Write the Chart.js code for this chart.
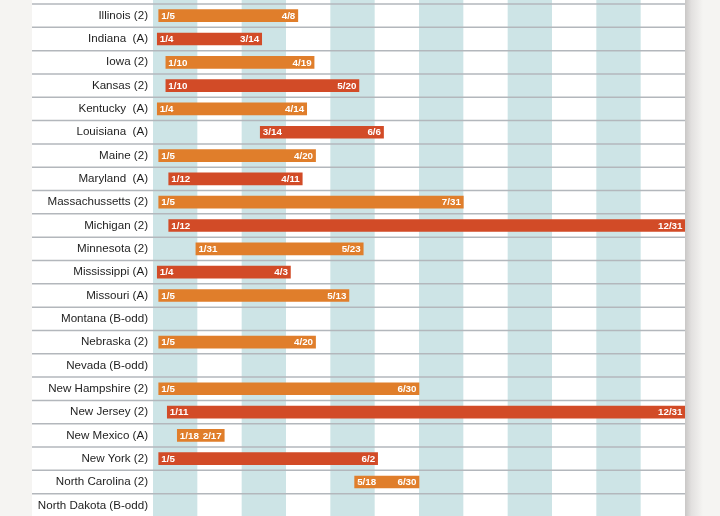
<!DOCTYPE html>
<html>
<head>
<meta charset="utf-8">
<script src="https://cdn.jsdelivr.net/npm/chart.js@4/dist/chart.umd.min.js"></script>
<style>
  html, body { margin: 0; padding: 0; background: #f5f4f2; overflow: hidden; width: 720px; height: 516px; }
  #wrap { position: absolute; left: 0; top: 0; width: 720px; height: 518px; }
</style>
</head>
<body>
<div id="wrap"><canvas id="c" width="720" height="518"></canvas></div>
<script>
// ---- data ----
const states = [
  "Illinois (2)", "Indiana  (A)", "Iowa (2)", "Kansas (2)", "Kentucky  (A)",
  "Louisiana  (A)", "Maine (2)", "Maryland  (A)", "Massachussetts (2)", "Michigan (2)",
  "Minnesota (2)", "Mississippi (A)", "Missouri (A)", "Montana (B-odd)", "Nebraska (2)",
  "Nevada (B-odd)", "New Hampshire (2)", "New Jersey (2)", "New Mexico (A)", "New York (2)",
  "North Carolina (2)", "North Dakota (B-odd)"
];
const startDates = [
  "1/5", "1/4", "1/10", "1/10", "1/4",
  "3/14", "1/5", "1/12", "1/5", "1/12",
  "1/31", "1/4", "1/5", null, "1/5",
  null, "1/5", "1/11", "1/18", "1/5",
  "5/18", null
];
const endDates = [
  "4/8", "3/14", "4/19", "5/20", "4/14",
  "6/6", "4/20", "4/11", "7/31", "12/31",
  "5/23", "4/3", "5/13", null, "4/20",
  null, "6/30", "12/31", "2/17", "6/2",
  "6/30", null
];
const monthDays = [31, 28, 31, 30, 31, 30, 31, 31, 30, 31, 30, 31];
const barColors = ["#e07e2b", "#d24b27"];

// month-based position (each month has equal width on the axis)
function startPos(s) { const [m, d] = s.split("/").map(Number); return (m - 1) + (d - 1) / monthDays[m - 1]; }
function endPos(s) { const [m, d] = s.split("/").map(Number); return (m - 1) + d / monthDays[m - 1]; }

const ranges = states.map((_, i) => startDates[i] ? [startPos(startDates[i]), endPos(endDates[i])] : null);

const PANEL_LEFT = 32;

const backgroundPlugin = {
  id: "bg",
  beforeDraw(chart) {
    const { ctx, chartArea, scales } = chart;
    const W = chart.width, H = chart.height;
    ctx.save();
    ctx.fillStyle = "#f5f4f2";
    ctx.fillRect(0, 0, W, H);
    // right shadow
    const g = ctx.createLinearGradient(chartArea.right, 0, chartArea.right + 18, 0);
    g.addColorStop(0, "#c9c7c6");
    g.addColorStop(0.35, "#e2e0df");
    g.addColorStop(1, "#f5f4f2");
    ctx.fillStyle = g;
    ctx.fillRect(chartArea.right, 0, 18, H);
    // white panel
    ctx.fillStyle = "#ffffff";
    ctx.fillRect(PANEL_LEFT, 0, chartArea.right - PANEL_LEFT, H);
    // month stripes
    const xs = scales.x;
    ctx.fillStyle = "#cde4e6";
    for (let m = 0; m < 12; m += 2) {
      const a = xs.getPixelForValue(m), b = xs.getPixelForValue(m + 1);
      ctx.fillRect(a, 0, b - a, H);
    }
    // row lines
    const ys = scales.y;
    const half = (ys.getPixelForValue(1) - ys.getPixelForValue(0)) / 2;
    ctx.strokeStyle = "#b3b7bc";
    ctx.lineWidth = 1.5;
    for (let i = 0; i <= states.length; i++) {
      const y = ys.getPixelForValue(i) - half;
      ctx.beginPath();
      ctx.moveTo(PANEL_LEFT, y);
      ctx.lineTo(chartArea.right, y);
      ctx.stroke();
    }
    ctx.restore();
  }
};

const labelPlugin = {
  id: "barLabels",
  afterDatasetsDraw(chart) {
    const { ctx } = chart;
    const meta = chart.getDatasetMeta(0);
    ctx.save();
    ctx.fillStyle = "#ffffff";
    ctx.font = "bold 9.8px 'Liberation Sans', Arial, sans-serif";
    ctx.textBaseline = "middle";
    meta.data.forEach((el, i) => {
      if (!ranges[i]) return;
      const left = Math.min(el.x, el.base), right = Math.max(el.x, el.base);
      ctx.textAlign = "left";
      ctx.fillText(startDates[i], left + 2.5, el.y + 0.5);
      ctx.textAlign = "right";
      ctx.fillText(endDates[i], right - 2.5, el.y + 0.5);
    });
    ctx.restore();
  }
};

new Chart(document.getElementById("c"), {
  type: "bar",
  data: {
    labels: states,
    datasets: [{
      data: ranges,
      backgroundColor: states.map((_, i) => barColors[i % 2]),
      borderWidth: 0,
      borderSkipped: false,
      barThickness: 12
    }]
  },
  options: {
    indexAxis: "y",
    responsive: false,
    animation: false,
    events: [],
    layout: { padding: { top: 4, right: 35, bottom: 1, left: 0 } },
    plugins: { legend: { display: false }, tooltip: { enabled: false } },
    scales: {
      x: { type: "linear", min: 0, max: 12, display: false },
      y: {
        type: "category",
        grid: { display: false, drawTicks: false },
        border: { display: false },
        ticks: {
          color: "#1e1e1e",
          padding: 5,
          font: { family: "'Liberation Sans', Arial, sans-serif", size: 11.6 }
        },
        afterFit(scale) {
          scale.width = 153;
          scale.paddingTop = 0;
          scale.paddingBottom = 0;
        }
      }
    }
  },
  plugins: [backgroundPlugin, labelPlugin]
});
</script>
</body>
</html>
